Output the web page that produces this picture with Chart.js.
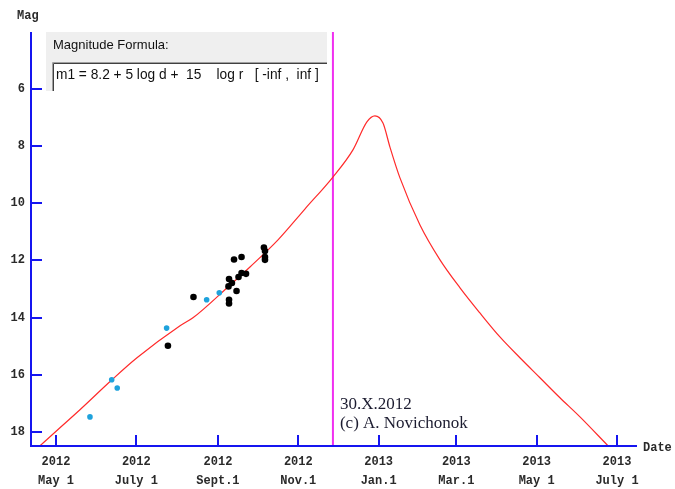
<!DOCTYPE html>
<html><head><meta charset="utf-8">
<script src="https://cdn.jsdelivr.net/npm/chart.js@4/dist/chart.umd.min.js"></script>
<style>html,body{margin:0;padding:0;background:#fff}#wrap{width:675px;height:489px}</style>
</head><body><div id="wrap"><canvas id="c" width="675" height="489"></canvas></div>
<script>
// ---- data (x = days since 2012 May 1, y = magnitude) ----
const xTickDays   = [0, 61, 123, 184, 245, 304, 365, 426];
const xTickYears  = ["2012","2012","2012","2012","2013","2013","2013","2013"];
const xTickMonths = ["May 1","July 1","Sept.1","Nov.1","Jan.1","Mar.1","May 1","July 1"];
const yTicks      = [6, 8, 10, 12, 14, 16, 18];

const curveDays = [-12.1, 3.0, 18.2, 42.5, 61.5, 94.2, 104.0, 130.6, 147.3, 168.6, 189.0, 210.3, 225.5, 236.1, 242.2, 248.3, 253.6, 261.2, 276.4, 291.6, 306.8, 321.9, 337.1, 352.3, 367.5, 382.7, 397.9, 419.1];
const curveMags = [18.49, 17.86, 17.23, 16.18, 15.41, 14.29, 14.01, 12.93, 12.23, 11.28, 10.20, 9.08, 8.13, 7.15, 6.94, 7.19, 8.03, 9.11, 10.76, 11.98, 12.96, 13.84, 14.68, 15.41, 16.11, 16.81, 17.48, 18.49];

const blueDays = [25.8, 42.3, 46.5, 84.0, 114.4, 124.0];
const blueMags = [17.48, 16.18, 16.47, 14.37, 13.38, 13.13];

const blackDays = [85.0, 104.4, 131.4, 133.6, 131.0, 131.4, 131.4, 135.2, 140.9, 137.1, 138.6, 140.9, 144.3, 157.9, 158.7, 158.7, 158.7];
const blackMags = [14.99, 13.28, 12.65, 12.79, 12.91, 13.38, 13.51, 11.97, 11.88, 13.07, 12.58, 12.44, 12.47, 11.55, 11.67, 11.88, 11.98];

const markerDay = 210.3;
const yRange = [4, 18.5];
const xRange = [-18.98, 441.2];

const formulaTitle = "Magnitude Formula:";
const formulaText  = "m1 = 8.2 + 5 log d +  15    log r   [ -inf ,  inf ]";
const noteLines    = ["30.X.2012", "(c) A. Novichonok"];
const yAxisTitle = "Mag";
const xAxisTitle = "Date";

// ---- chart ----
const toXY = (xs, ys) => xs.map((x, i) => ({x: x, y: ys[i]}));
const monoFont = "'Liberation Mono', 'DejaVu Sans Mono', monospace";
const AXIS = '#1515f0';

const decor = {
  id: 'decor',
  afterDatasetsDraw(chart) {
    const ctx = chart.ctx, a = chart.chartArea;
    const xs = chart.scales.x, ys = chart.scales.y;
    ctx.save();
    ctx.strokeStyle = AXIS;
    ctx.lineWidth = 2;
    ctx.beginPath();
    ctx.moveTo(a.left, a.top); ctx.lineTo(a.left, a.bottom);
    ctx.moveTo(a.left - 1, a.bottom); ctx.lineTo(a.right, a.bottom);
    yTicks.forEach(v => { const p = Math.round(ys.getPixelForValue(v)); ctx.moveTo(a.left, p); ctx.lineTo(a.left + 11, p); });
    xTickDays.forEach(v => { const p = Math.round(xs.getPixelForValue(v)); ctx.moveTo(p, a.bottom); ctx.lineTo(p, a.bottom - 11); });
    ctx.stroke();

    // axis titles
    ctx.fillStyle = '#2a2a2a';
    ctx.font = "bold 12px " + monoFont;
    ctx.textBaseline = 'middle';
    ctx.textAlign = 'left';
    ctx.fillText(yAxisTitle, 17, 16);
    ctx.fillText(xAxisTitle, a.right + 6, a.bottom + 2);

    // formula panel
    const pl = 46, pt = a.top, pr = 327, pb = 91;
    ctx.fillStyle = '#efefef';
    ctx.fillRect(pl, pt, pr - pl, pb - pt);
    ctx.fillStyle = '#ffffff';
    ctx.fillRect(53, 63, pr - 53, pb - 63);
    ctx.lineWidth = 1;
    ctx.strokeStyle = '#a0a0a0';
    ctx.beginPath(); ctx.moveTo(52.5, pb); ctx.lineTo(52.5, 62.5); ctx.lineTo(pr, 62.5); ctx.stroke();
    ctx.strokeStyle = '#404040';
    ctx.beginPath(); ctx.moveTo(53.5, pb); ctx.lineTo(53.5, 63.5); ctx.lineTo(pr, 63.5); ctx.stroke();
    ctx.fillStyle = '#111';
    ctx.font = "13px 'Liberation Sans', Arial, sans-serif";
    ctx.fillText(formulaTitle, 53, 45);
    let fs = 13;
    ctx.font = fs + "px 'Liberation Sans', Arial, sans-serif";
    const w = ctx.measureText(formulaText).width;
    fs = fs * 263 / w;
    ctx.font = fs.toFixed(2) + "px 'Liberation Sans', Arial, sans-serif";
    ctx.fillText(formulaText, 56, 75);

    // note
    ctx.fillStyle = '#1c1c30';
    let ns = 15;
    ctx.font = ns + "px 'Liberation Serif', 'Times New Roman', serif";
    const nw = ctx.measureText(noteLines[1]).width;
    ns = ns * 128 / nw;
    ctx.font = ns.toFixed(2) + "px 'Liberation Serif', 'Times New Roman', serif";
    const mx = xs.getPixelForValue(markerDay);
    ctx.fillText(noteLines[0], mx + 7, 405);
    ctx.fillText(noteLines[1], mx + 7, 424);
    ctx.restore();
  }
};

new Chart(document.getElementById('c'), {
  type: 'scatter',
  data: {
    datasets: [
      { data: [{x: markerDay, y: yRange[0]}, {x: markerDay, y: yRange[1]}], showLine: true, borderColor: '#f030f0', borderWidth: 2, pointRadius: 0, order: 4 },
      { data: toXY(curveDays, curveMags), showLine: true, borderColor: '#ff2a2a', borderWidth: 1.2, pointRadius: 0, tension: 0.4, cubicInterpolationMode: 'monotone', order: 3 },
      { data: toXY(blueDays, blueMags), backgroundColor: '#1ea2dc', borderWidth: 0, pointRadius: 2.8, order: 2 },
      { data: toXY(blackDays, blackMags), backgroundColor: '#000000', borderWidth: 0, pointRadius: 3.3, order: 1 }
    ]
  },
  options: {
    responsive: false,
    animation: false,
    devicePixelRatio: 1,
    layout: { padding: { top: 32, right: 38, left: 0, bottom: 0 } },
    plugins: { legend: { display: false }, tooltip: { enabled: false } },
    scales: {
      x: {
        type: 'linear', min: xRange[0], max: xRange[1],
        grid: { display: false, drawTicks: false }, border: { display: false },
        afterFit: s => { s.height = 43; },
        afterBuildTicks: s => { s.ticks = xTickDays.map(v => ({value: v})); },
        ticks: {
          autoSkip: false, maxRotation: 0, padding: 7, color: '#2a2a2a',
          font: { family: monoFont, size: 12, weight: 'bold', lineHeight: 1.58 },
          callback: (v, i) => [xTickYears[i], xTickMonths[i]]
        }
      },
      y: {
        type: 'linear', reverse: true, min: yRange[0], max: yRange[1],
        grid: { display: false, drawTicks: false }, border: { display: false },
        afterFit: s => { s.width = 31; },
        afterBuildTicks: s => { s.ticks = yTicks.map(v => ({value: v})); },
        ticks: {
          padding: 6, color: '#2a2a2a',
          font: { family: monoFont, size: 12, weight: 'bold' },
          callback: v => String(v)
        }
      }
    }
  },
  plugins: [decor]
});
</script>
</body></html>
